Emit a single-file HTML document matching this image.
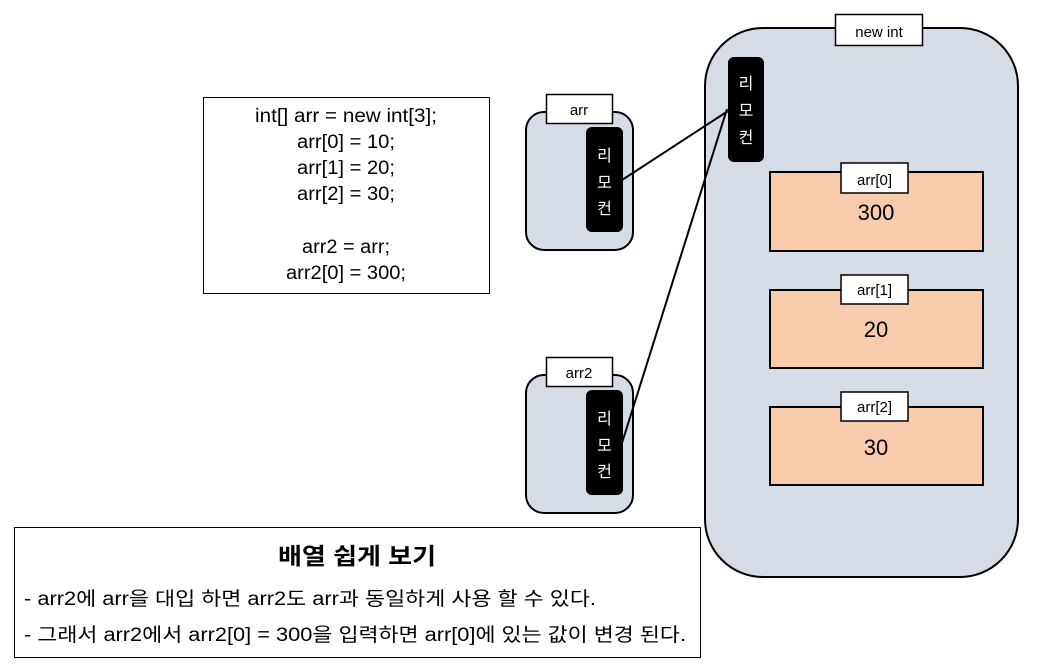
<!DOCTYPE html>
<html><head><meta charset="utf-8"><style>
html,body{margin:0;padding:0;background:#fff;}
svg{display:block;}
text{font-family:"Liberation Sans","Noto Sans CJK KR",sans-serif;}
</style></head><body>
<svg width="1058" height="668" viewBox="0 0 1058 668" xmlns="http://www.w3.org/2000/svg">
<rect x="203.5" y="97.5" width="286" height="196" fill="#fff" stroke="#000" stroke-width="1"/>
<g font-size="19" text-anchor="middle" fill="#000" lengthAdjust="spacingAndGlyphs">
<text x="346" y="122" textLength="182" lengthAdjust="spacingAndGlyphs">int[] arr = new int[3];</text>
<text x="346" y="148" textLength="98" lengthAdjust="spacingAndGlyphs">arr[0] = 10;</text>
<text x="346" y="174" textLength="98" lengthAdjust="spacingAndGlyphs">arr[1] = 20;</text>
<text x="346" y="200" textLength="98" lengthAdjust="spacingAndGlyphs">arr[2] = 30;</text>
<text x="346" y="253" textLength="88" lengthAdjust="spacingAndGlyphs">arr2 = arr;</text>
<text x="346" y="279" textLength="120" lengthAdjust="spacingAndGlyphs">arr2[0] = 300;</text>
</g>
<rect x="705" y="28" width="313" height="549" rx="58" fill="#d6dce5" stroke="#000" stroke-width="2"/>
<rect x="835.5" y="14.5" width="87" height="31" fill="#fff" stroke="#000" stroke-width="1.5"/>
<text x="879" y="37" font-size="15" text-anchor="middle">new int</text>
<rect x="728" y="57" width="36" height="105" rx="6" fill="#000"/>
<g fill="#fff" font-size="16" text-anchor="middle">
<text x="746" y="89">리</text><text x="746" y="116">모</text><text x="746" y="143">컨</text>
</g>
<g stroke="#000" stroke-width="2">
<rect x="770" y="172" width="213" height="79" fill="#f8cbad"/>
<rect x="770" y="290" width="213" height="78" fill="#f8cbad"/>
<rect x="770" y="407" width="213" height="78" fill="#f8cbad"/>
</g>
<g stroke="#000" stroke-width="1.5" fill="#fff">
<rect x="841" y="163" width="67" height="30"/>
<rect x="841" y="275" width="67" height="29"/>
<rect x="841" y="392" width="67" height="29"/>
</g>
<g font-size="15" text-anchor="middle">
<text x="874.5" y="185">arr[0]</text>
<text x="874.5" y="295">arr[1]</text>
<text x="874.5" y="412">arr[2]</text>
</g>
<g font-size="22" text-anchor="middle">
<text x="876" y="220">300</text>
<text x="876" y="337">20</text>
<text x="876" y="455">30</text>
</g>
<rect x="526" y="112" width="107" height="138" rx="18" fill="#d6dce5" stroke="#000" stroke-width="2"/>
<rect x="546.5" y="94.5" width="66" height="29" fill="#fff" stroke="#000" stroke-width="1.5"/>
<text x="579" y="115" font-size="15" text-anchor="middle">arr</text>
<rect x="586" y="127" width="37" height="105" rx="6" fill="#000"/>
<g fill="#fff" font-size="16" text-anchor="middle">
<text x="604.5" y="161">리</text><text x="604.5" y="188">모</text><text x="604.5" y="214">컨</text>
</g>
<rect x="526" y="375" width="107" height="138" rx="18" fill="#d6dce5" stroke="#000" stroke-width="2"/>
<rect x="546.5" y="357.5" width="66" height="29" fill="#fff" stroke="#000" stroke-width="1.5"/>
<text x="579" y="378" font-size="15" text-anchor="middle">arr2</text>
<rect x="586" y="390" width="37" height="105" rx="6" fill="#000"/>
<g fill="#fff" font-size="16" text-anchor="middle">
<text x="604.5" y="424">리</text><text x="604.5" y="451">모</text><text x="604.5" y="477">컨</text>
</g>
<line x1="622" y1="180" x2="728" y2="111" stroke="#000" stroke-width="2"/>
<line x1="622" y1="443" x2="727" y2="109" stroke="#000" stroke-width="2"/>
<rect x="14.5" y="527.5" width="686" height="130" fill="#fff" stroke="#000" stroke-width="1"/>
<text x="357" y="564" font-size="23" font-weight="bold" text-anchor="middle" textLength="158" lengthAdjust="spacingAndGlyphs">배열 쉽게 보기</text>
<text x="24" y="605" font-size="19" textLength="572" lengthAdjust="spacingAndGlyphs">- arr2에 arr을 대입 하면 arr2도 arr과 동일하게 사용 할 수 있다.</text>
<text x="24" y="641" font-size="19" textLength="662" lengthAdjust="spacingAndGlyphs">- 그래서 arr2에서 arr2[0] = 300을 입력하면 arr[0]에 있는 값이 변경 된다.</text>
</svg>
</body></html>
